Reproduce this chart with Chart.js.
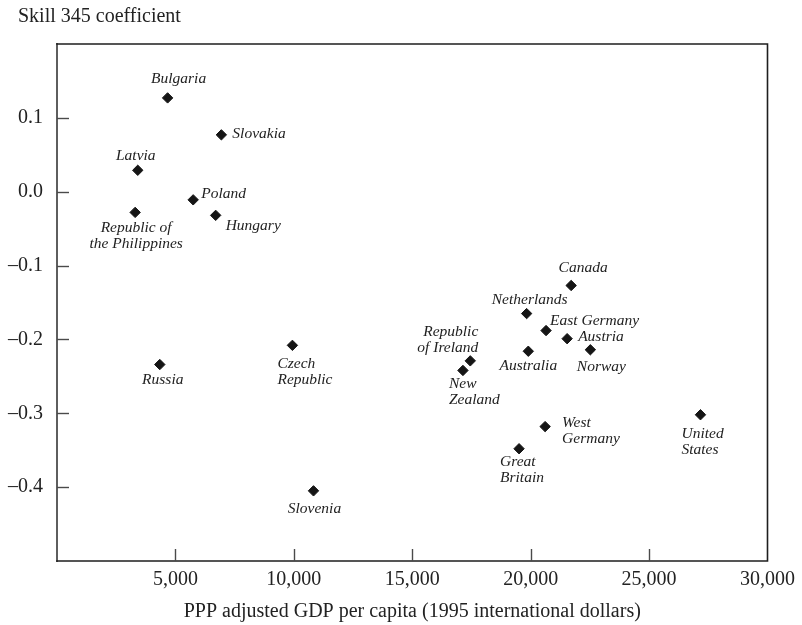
<!DOCTYPE html>
<html>
<head>
<meta charset="utf-8">
<script src="https://cdn.jsdelivr.net/npm/chart.js@4.4.1/dist/chart.umd.min.js"></script>
<style>
  html, body { margin: 0; padding: 0; background: #fff; }
  #wrap { width: 802px; height: 625px; }
</style>
</head>
<body>
<div id="wrap"><canvas id="c" width="802" height="625"></canvas></div>
<script>
// Countries, GDP per capita (PPP, 1995 int. $) and skill 345 coefficient
const countries = [
  'Bulgaria', 'Slovakia', 'Latvia', 'Poland', 'Republic of the Philippines',
  'Hungary', 'Russia', 'Czech Republic', 'Slovenia', 'Canada',
  'Netherlands', 'East Germany', 'Austria', 'Norway', 'Australia',
  'Republic of Ireland', 'New Zealand', 'West Germany', 'Great Britain', 'United States'
];
const gdpPerCapita = [
  4670, 6940, 3410, 5750, 3300,
  6700, 4340, 9940, 10830, 21710,
  19830, 20650, 21540, 22520, 19900,
  17450, 17140, 20610, 19510, 27170
];
const skillCoef = [
  0.127, 0.077, 0.029, -0.011, -0.028,
  -0.032, -0.234, -0.208, -0.405, -0.127,
  -0.165, -0.188, -0.199, -0.214, -0.216,
  -0.229, -0.242, -0.318, -0.348, -0.302
];
// Point labels as printed (line breaks included)
const labelLines = [
  ['Bulgaria'], ['Slovakia'], ['Latvia'], ['Poland'], ['Republic of', 'the Philippines'],
  ['Hungary'], ['Russia'], ['Czech', 'Republic'], ['Slovenia'], ['Canada'],
  ['Netherlands'], ['East Germany'], ['Austria'], ['Norway'], ['Australia'],
  ['Republic', 'of Ireland'], ['New', 'Zealand'], ['West', 'Germany'], ['Great', 'Britain'], ['United', 'States']
];
const xTickValues = [5000, 10000, 15000, 20000, 25000, 30000];
const yTickValues = [-0.4, -0.3, -0.2, -0.1, 0.0, 0.1];
const yAxisTitle = 'Skill 345 coefficient';
const xAxisTitle = 'PPP adjusted GDP per capita (1995 international dollars)';

// Where each label sits relative to its marker (pixels)
const labelPlacement = [
  { align: 'center', dx: 11, dy: -19 },
  { align: 'left', dx: 11, dy: -1 },
  { align: 'center', dx: -2, dy: -14 },
  { align: 'left', dx: 8, dy: -6 },
  { align: 'center', dx: 1, dy: 16 },
  { align: 'left', dx: 10, dy: 11 },
  { align: 'center', dx: 3, dy: 15 },
  { align: 'left', dx: -15, dy: 19 },
  { align: 'center', dx: 1, dy: 18 },
  { align: 'center', dx: 12, dy: -18 },
  { align: 'center', dx: 3, dy: -14 },
  { align: 'left', dx: 4, dy: -10 },
  { align: 'left', dx: 11, dy: -2 },
  { align: 'center', dx: 11, dy: 17 },
  { align: 'center', dx: 0, dy: 15 },
  { align: 'right', dx: 8, dy: -29 },
  { align: 'left', dx: -14, dy: 13 },
  { align: 'left', dx: 17, dy: -4 },
  { align: 'left', dx: -19, dy: 13 },
  { align: 'left', dx: -19, dy: 19 }
];

const SERIF = '"Liberation Serif", "Times New Roman", serif';
const INK = '#222';

const points = gdpPerCapita.map((g, i) => ({ x: g, y: skillCoef[i] }));

// Box frame, inward tick marks and the y-axis caption above the box
const framePlugin = {
  id: 'frame',
  afterDraw(chart) {
    const { ctx, chartArea: a, scales } = chart;
    ctx.save();
    ctx.font = '20px ' + SERIF;
    ctx.fillStyle = INK;
    ctx.textAlign = 'left';
    ctx.textBaseline = 'alphabetic';
    ctx.fillText(yAxisTitle, 18, 22);

    ctx.lineCap = 'square';
    ctx.strokeStyle = '#5e5e5e';
    ctx.lineWidth = 2;
    ctx.beginPath();
    ctx.moveTo(a.left, a.top);
    ctx.lineTo(a.left, a.bottom);
    ctx.stroke();
    ctx.strokeStyle = '#1e1e1e';
    ctx.lineWidth = 1.6;
    ctx.beginPath();
    ctx.moveTo(a.left, a.top);
    ctx.lineTo(a.right, a.top);
    ctx.lineTo(a.right, a.bottom);
    ctx.lineTo(a.left, a.bottom);
    ctx.stroke();

    ctx.strokeStyle = '#4a4a4a';
    ctx.lineWidth = 1.4;
    ctx.lineCap = 'butt';
    scales.y.ticks.forEach(t => {
      const py = Math.round(scales.y.getPixelForValue(t.value)) + 0.5;
      ctx.beginPath();
      ctx.moveTo(a.left, py);
      ctx.lineTo(a.left + 12, py);
      ctx.stroke();
    });
    scales.x.ticks.forEach(t => {
      const px = Math.round(scales.x.getPixelForValue(t.value)) + 0.5;
      if (px >= a.right - 2) return;
      ctx.beginPath();
      ctx.moveTo(px, a.bottom);
      ctx.lineTo(px, a.bottom - 12);
      ctx.stroke();
    });
    ctx.restore();
  }
};

// Italic country names next to each marker
const labelPlugin = {
  id: 'pointLabels',
  afterDatasetsDraw(chart) {
    const { ctx } = chart;
    const meta = chart.getDatasetMeta(0);
    ctx.save();
    ctx.font = 'italic 15.5px ' + SERIF;
    ctx.fillStyle = INK;
    ctx.textBaseline = 'middle';
    meta.data.forEach((el, i) => {
      const p = labelPlacement[i];
      ctx.textAlign = p.align;
      labelLines[i].forEach((line, k) => {
        ctx.fillText(line, el.x + p.dx, el.y + p.dy + k * 16);
      });
    });
    ctx.restore();
  }
};

new Chart(document.getElementById('c'), {
  type: 'scatter',
  data: {
    datasets: [{
      data: points,
      pointStyle: 'rectRot',
      pointRadius: 5.2,
      backgroundColor: '#151515',
      borderColor: '#151515',
      borderWidth: 1
    }]
  },
  options: {
    responsive: false,
    devicePixelRatio: 1,
    animation: false,
    layout: { padding: { left: 0, right: 32, top: 44, bottom: 0 } },
    plugins: {
      legend: { display: false },
      tooltip: { enabled: false },
      title: { display: false }
    },
    scales: {
      x: {
        type: 'linear',
        min: 0,
        max: 30000,
        afterBuildTicks: s => { s.ticks = xTickValues.map(v => ({ value: v })); },
        afterFit: s => { s.height = 64; },
        grid: { display: false, drawTicks: false },
        border: { display: false },
        ticks: {
          autoSkip: false,
          maxRotation: 0,
          padding: 7,
          color: INK,
          font: { family: SERIF, size: 20 },
          callback: v => Number(v).toLocaleString('en-US')
        },
        title: {
          display: true,
          text: xAxisTitle,
          color: INK,
          font: { family: SERIF, size: 20 },
          padding: { top: 0, bottom: 1 }
        }
      },
      y: {
        type: 'linear',
        min: -0.5,
        max: 0.2,
        afterBuildTicks: s => { s.ticks = yTickValues.map(v => ({ value: v })); },
        afterFit: s => { s.width = 57; },
        grid: { display: false, drawTicks: false },
        border: { display: false },
        ticks: {
          padding: 14,
          color: INK,
          font: { family: SERIF, size: 20 },
          callback: v => {
            const s = Math.abs(v).toFixed(1);
            return v < -1e-9 ? '\u2013' + s : s;
          }
        }
      }
    }
  },
  plugins: [framePlugin, labelPlugin]
});
</script>
</body>
</html>
